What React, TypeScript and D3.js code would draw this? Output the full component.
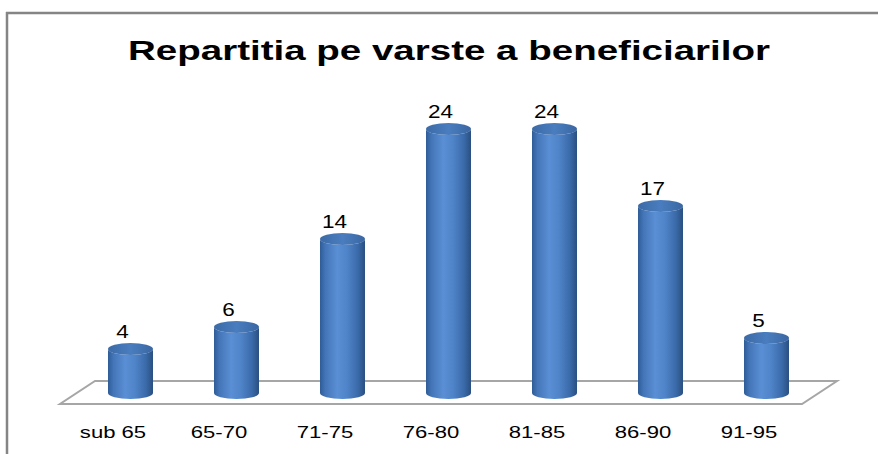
import React from "react";
import * as d3 from "d3";

const categories = ["sub 65", "65-70", "71-75", "76-80", "81-85", "86-90", "91-95"];
const values = [4, 6, 14, 24, 24, 17, 5];
const title = "Repartitia pe varste a beneficiarilor";

const width = 878;
const height = 454;

// floor of the 3d plot (front edge + depth offset)
const floorFront = { x0: 60, x1: 802, y: 404 };
const depth = { dx: 35, dy: -23 };

const App = () => {
  const x = d3
    .scaleBand<string>()
    .domain(categories)
    .range([floorFront.x0, floorFront.x1]);

  // base of the cylinders sits in the middle of the floor depth
  const y = d3.scaleLinear().domain([0, 24]).range([393, 129]);

  const rx = 22.5;
  const ry = 6;
  const shift = depth.dx / 2;

  const floor =
    d3.line()([
      [floorFront.x0, floorFront.y],
      [floorFront.x1, floorFront.y],
      [floorFront.x1 + depth.dx, floorFront.y + depth.dy],
      [floorFront.x0 + depth.dx, floorFront.y + depth.dy],
    ]) + "Z";

  // side of a cylinder, with the rounded bottom
  const cylinder = (cx: number, top: number, base: number) =>
    `M${cx - rx},${top}L${cx - rx},${base}` +
    `A${rx},${ry} 0 0 0 ${cx + rx},${base}L${cx + rx},${top}` +
    `A${rx},${ry} 0 0 1 ${cx - rx},${top}Z`;

  return (
    <svg
      width={width}
      height={height}
      style={{ position: "absolute", left: 0, top: 0, background: "#fff" }}
      fontFamily="'Liberation Sans', Arial, sans-serif"
    >
      <defs>
        <linearGradient id="body" x1="0" x2="1" y1="0" y2="0">
          <stop offset="0" stopColor="#2f5c96" />
          <stop offset="0.12" stopColor="#4375b8" />
          <stop offset="0.38" stopColor="#5a8fd5" />
          <stop offset="0.6" stopColor="#4f84c9" />
          <stop offset="0.85" stopColor="#3a69a8" />
          <stop offset="1" stopColor="#29507f" />
        </linearGradient>
        <linearGradient id="cap" x1="0" x2="1" y1="0" y2="0">
          <stop offset="0" stopColor="#3c6aa6" />
          <stop offset="0.5" stopColor="#4a7dbf" />
          <stop offset="1" stopColor="#3b67a2" />
        </linearGradient>
      </defs>

      {/* frame */}
      <line x1={6} x2={878} y1={13} y2={13} stroke="#858585" strokeWidth={2.5} />
      <line x1={7} x2={7} y1={12} y2={454} stroke="#858585" strokeWidth={2.5} />

      <text
        x={449}
        y={60}
        textAnchor="middle"
        fontSize={27}
        fontWeight="bold"
        textLength={642}
        lengthAdjust="spacingAndGlyphs"
      >
        {title}
      </text>

      <path d={floor} fill="#fff" stroke="#a6a6a6" strokeWidth={2} />

      {categories.map((c, i) => {
        const cx = (x(c) as number) + x.bandwidth() / 2 + shift;
        const top = y(values[i]);
        const base = y(0);
        return (
          <g key={c}>
            <path d={cylinder(cx, top, base)} fill="url(#body)" />
            <ellipse cx={cx} cy={top} rx={rx} ry={ry} fill="url(#cap)" />
            <text
              transform={`translate(${cx - 8},${top - 11}) scale(1.25,1)`}
              textAnchor="middle"
              fontSize={18}
              fill="#000"
            >
              {values[i]}
            </text>
          </g>
        );
      })}

      {categories.map((c) => (
        <text
          key={c}
          transform={`translate(${(x(c) as number) + x.bandwidth() / 2},438) scale(1.3,1)`}
          textAnchor="middle"
          fontSize={17}
          fill="#000"
        >
          {c}
        </text>
      ))}
    </svg>
  );
};

export default App;
